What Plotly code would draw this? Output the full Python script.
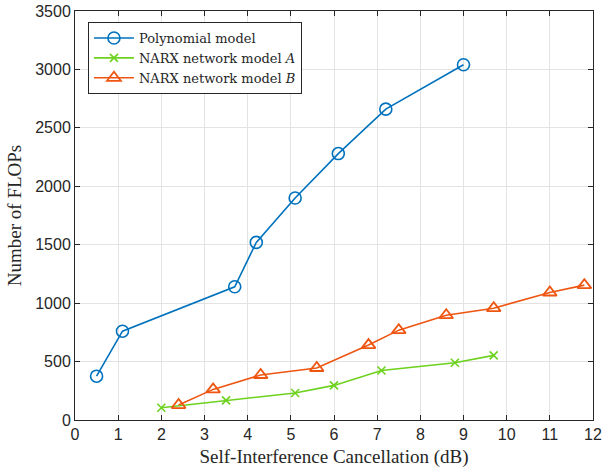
import plotly.graph_objects as go

poly_x = [0.5, 1.1, 3.7, 4.2, 5.1, 6.1, 7.2, 9.0]
poly_y = [375, 760, 1140, 1520, 1900, 2280, 2660, 3040]

narxA_x = [2.0, 3.5, 5.1, 6.0, 7.1, 8.8, 9.7]
narxA_y = [105, 168, 231, 296, 424, 490, 553]

narxB_x = [2.4, 3.2, 4.3, 5.6, 6.8, 7.5, 8.6, 9.7, 11.0, 11.8]
narxB_y = [128, 262, 385, 445, 641, 769, 897, 957, 1091, 1154]

x_ticks = list(range(0, 13))
y_ticks = list(range(0, 3501, 500))

serif = "Liberation Serif"
sans = "Liberation Sans"

fig = go.Figure()
fig.add_trace(go.Scatter(
    x=poly_x, y=poly_y, mode="lines+markers", name="Polynomial model",
    line=dict(color="#0072BD", width=1.6),
    marker=dict(symbol="circle-open", size=12, color="#0072BD", line=dict(width=1.6)),
))
fig.add_trace(go.Scatter(
    x=narxA_x, y=narxA_y, mode="lines+markers", name="NARX network model <i>A</i>",
    line=dict(color="#6DD21E", width=1.6),
    marker=dict(symbol="x-thin-open", size=8, color="#6DD21E", line=dict(width=1.6, color="#6DD21E")),
))
fig.add_trace(go.Scatter(
    x=narxB_x, y=narxB_y, mode="lines+markers", name="NARX network model <i>B</i>",
    line=dict(color="#EE5511", width=1.6),
    marker=dict(symbol="triangle-up-open", size=12, color="#EE5511", line=dict(width=1.8)),
))

axis_common = dict(
    showgrid=True, gridcolor="#E3E3E3", gridwidth=1,
    showline=True, linecolor="#262626", linewidth=1, mirror="allticks",
    ticks="inside", ticklen=5, tickcolor="#262626",
    zeroline=False, automargin=False,
    tickfont=dict(family=sans, size=16, color="#262626"),
)

fig.update_layout(
    width=604, height=468,
    margin=dict(l=75, r=11, t=11, b=48),
    paper_bgcolor="white", plot_bgcolor="white",
    xaxis=dict(range=[0, 12], tickvals=x_ticks, title=dict(text="Self-Interference Cancellation (dB)",
               font=dict(family=serif, size=19, color="#262626"), standoff=7), **axis_common),
    yaxis=dict(range=[0, 3500], tickvals=y_ticks, title=dict(text="Number of FLOPs",
               font=dict(family=serif, size=19, color="#262626"), standoff=8), **axis_common),
    legend=dict(x=0.025, y=0.973, xanchor="left", yanchor="top",
                bgcolor="white", bordercolor="#262626", borderwidth=1,
                font=dict(family="DejaVu Serif", size=13, color="#262626"),
                tracegroupgap=0, itemwidth=40),
    showlegend=True,
)

fig.write_html("out.html", config={"displayModeBar": False},
               post_script="document.body.style.margin='0';document.body.style.overflow='hidden';")
